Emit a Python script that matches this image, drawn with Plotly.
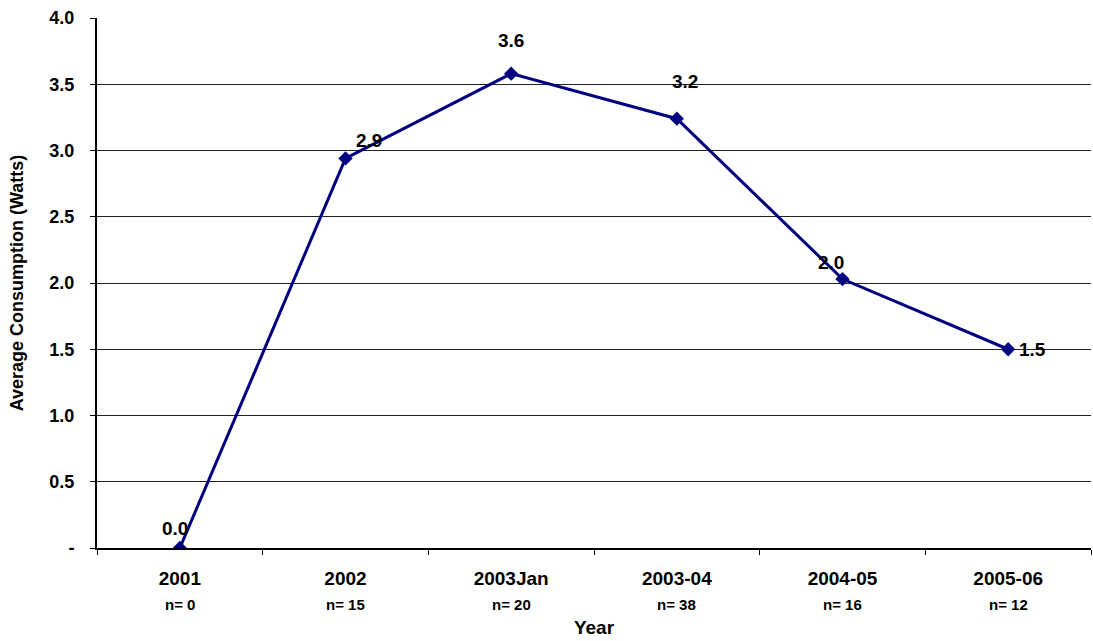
import plotly.graph_objects as go

years = ["2001", "2002", "2003Jan", "2003-04", "2004-05", "2005-06"]
counts = ["n= 0", "n= 15", "n= 20", "n= 38", "n= 16", "n= 12"]
consumption = [0.0, 2.94, 3.58, 3.24, 2.03, 1.50]
y_ticks = [0, 0.5, 1.0, 1.5, 2.0, 2.5, 3.0, 3.5, 4.0]
y_tick_text = ["-", "0.5", "1.0", "1.5", "2.0", "2.5", "3.0", "3.5", "4.0"]

# label offsets (px) mimicking Excel data-label placement
label_dx = [-5, 23, 0, 8, -12, 24]
label_dy = [20, 18, 33, 37, 17, 0]

FONT = "Liberation Sans, Arial, sans-serif"

fig = go.Figure()
fig.add_trace(go.Scatter(
    x=years, y=consumption, mode="lines+markers",
    line=dict(color="#000080", width=3),
    marker=dict(symbol="diamond", size=11, color="#000080"),
    showlegend=False, hoverinfo="x+y",
))

annotations = []
# category axes: annotation x given as category index
for i, (yv, dx, dy) in enumerate(zip(consumption, label_dx, label_dy)):
    annotations.append(dict(
        x=i, y=yv, xref="x", yref="y", text=f"<b>{yv:.1f}</b>",
        showarrow=False, xshift=dx, yshift=dy,
        font=dict(family=FONT, size=19, color="black"),
    ))
for i, c in enumerate(counts):
    annotations.append(dict(
        x=i, y=0, xref="x", yref="paper", yanchor="middle", text=f"<b>{c}</b>",
        showarrow=False, yshift=-56,
        font=dict(family=FONT, size=15, color="black"),
    ))

fig.update_layout(
    width=1093, height=641,
    margin=dict(l=97, r=2, t=18, b=93),
    paper_bgcolor="white", plot_bgcolor="white",
    font=dict(family=FONT, color="black"),
    annotations=annotations,
    xaxis=dict(
        type="category", range=[-0.5, 5.5],
        tickvals=years, ticktext=[f"<b>{y}</b>" for y in years],
        tickson="boundaries", ticks="outside", ticklen=5, tickcolor="black",
        tickfont=dict(family=FONT, size=19, color="black"),
        ticklabelstandoff=12,
        showline=True, linecolor="black", linewidth=2,
        showgrid=False, zeroline=False,
        title=dict(text="<b>Year</b>", font=dict(family=FONT, size=19, color="black"), standoff=33),
        automargin=False,
    ),
    yaxis=dict(
        range=[0, 4.0], tickvals=y_ticks,
        ticktext=[f"<b>{t}</b>" for t in y_tick_text],
        ticks="outside", ticklen=5, tickcolor="black",
        tickfont=dict(family=FONT, size=18, color="black"),
        ticklabelstandoff=12,
        showline=True, linecolor="black", linewidth=2,
        showgrid=True, gridcolor="#222222", gridwidth=1,
        zeroline=False,
        title=dict(text="<b>Average Consumption (Watts)</b>", font=dict(family=FONT, size=18, color="black"), standoff=21),
        automargin=False,
    ),
)

fig.write_html("out.html", config={"displayModeBar": False},
               post_script="document.body.style.margin='0';document.body.style.overflow='hidden';")
